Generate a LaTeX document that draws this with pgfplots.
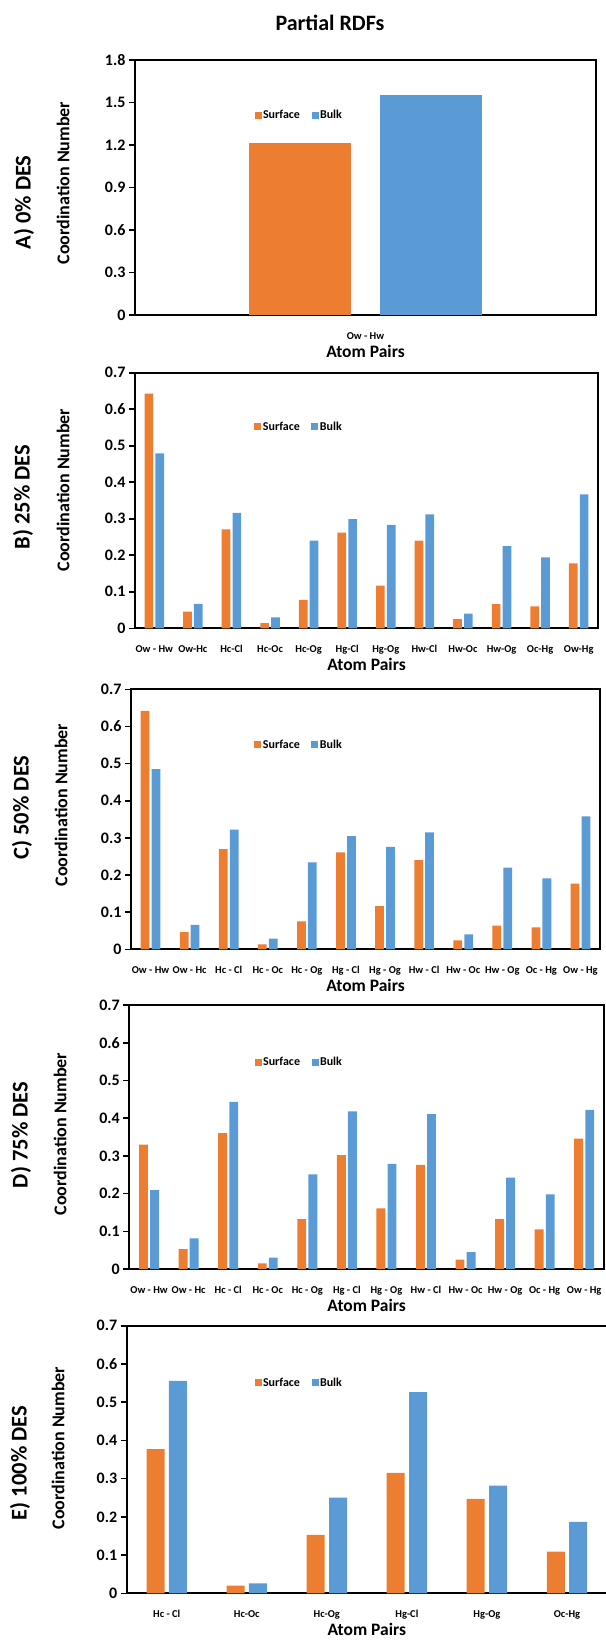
\documentclass[border=0pt]{standalone}
\usepackage{pgfplots}
\pgfplotsset{compat=1.18}
\usepackage{fontspec}
\setmainfont{Carlito}
\definecolor{sorange}{HTML}{ED7D31}
\definecolor{bblue}{HTML}{5B9BD5}
\newcommand{\fs}[1]{\fontsize{#1bp}{#1bp}\selectfont\bfseries}

\pgfplotsset{
  panel/.style={
    scale only axis,
    enlargelimits=false,
    ymin=0,
    axis line style={line width=2bp, black},
    tick align=outside,
    tick pos=left,
    major tick length=6bp,
    major tick style={line width=1.6bp, black},
    major x tick style={draw=none},
    extra x tick style={major tick length=5bp, major tick style={line width=1.6bp, black, draw=black}},
    extra x tick labels={},
    yticklabel style={font=\fs{16}, anchor=east},
    xticklabel style={font=\fs{10.5}, anchor=base, yshift=-18bp},
    xlabel={Atom Pairs},
    xlabel style={font=\fs{17.5}, at={(axis description cs:0.5,0)}, anchor=center, yshift=-36bp},
    legend style={draw=none, fill=none, font=\fs{12}, legend columns=2, anchor=center,
      /tikz/every even column/.append style={column sep=10bp},
      nodes={inner sep=1.5bp}},
    legend image code/.code={\fill[##1] (0bp,-3.5bp) rectangle (7bp,3.5bp);},
  },
  sbar/.style={ybar, fill=sorange, draw=none, bar width=0.225, bar shift=-0.14},
  bbar/.style={ybar, fill=bblue, draw=none, bar width=0.225, bar shift=0.14},
}

\begin{document}
\begin{tikzpicture}
\path[use as bounding box] (0,0) rectangle (606bp,-1640bp);

% Title
\node[font=\fs{22}] at (330bp,-23bp) {Partial RDFs};

% ---------- Panel A ----------
\begin{axis}[panel,
  at={(135bp,-315bp)}, anchor=south west, width=461bp, height=255bp,
  xmin=-0.5, xmax=0.5, ymax=1.8,
  ytick={0,0.3,0.6,0.9,1.2,1.5,1.8},
  yticklabels={0,0.3,0.6,0.9,1.2,1.5,1.8},
  xtick={0}, xticklabels={Ow - Hw},
  extra x ticks={-0.5,0.5},
  legend style={at={(axis description cs:0.3557,0.784)}},
]
\addplot[ybar, fill=sorange, draw=none, bar width=0.223, bar shift=-0.142] coordinates {(0,1.212)};
\addplot[ybar, fill=bblue, draw=none, bar width=0.223, bar shift=0.142] coordinates {(0,1.553)};
\legend{Surface,Bulk}
\end{axis}
\node[font=\fs{18}, rotate=90] at (63bp,-183bp) {Coordination Number};
\node[font=\fs{22.5}, rotate=90] at (24bp,-202.5bp) {A) 0\% DES};

% ---------- Panel B ----------
\begin{axis}[panel,
  at={(135bp,-628.3bp)}, anchor=south west, width=463bp, height=255.6bp,
  xmin=-0.5, xmax=11.5, ymax=0.7,
  ytick={0,0.1,0.2,0.3,0.4,0.5,0.6,0.7},
  yticklabels={0,0.1,0.2,0.3,0.4,0.5,0.6,0.7},
  xtick={0,...,11},
  xticklabels={Ow - Hw,Ow-Hc,Hc-Cl,Hc-Oc,Hc-Og,Hg-Cl,Hg-Og,Hw-Cl,Hw-Oc,Hw-Og,Oc-Hg,Ow-Hg},
  extra x ticks={-0.5,0.5,1.5,2.5,3.5,4.5,5.5,6.5,7.5,8.5,9.5,10.5,11.5},
  legend style={at={(axis description cs:0.354,0.788)}},
]
\addplot[sbar] coordinates {(0,0.643) (1,0.046) (2,0.271) (3,0.014) (4,0.078) (5,0.262) (6,0.117) (7,0.240) (8,0.025) (9,0.066) (10,0.060) (11,0.178)};
\addplot[bbar] coordinates {(0,0.479) (1,0.067) (2,0.316) (3,0.030) (4,0.240) (5,0.299) (6,0.283) (7,0.312) (8,0.040) (9,0.225) (10,0.194) (11,0.367)};
\legend{Surface,Bulk}
\end{axis}
\node[font=\fs{18}, rotate=90] at (63bp,-490bp) {Coordination Number};
\node[font=\fs{22.5}, rotate=90] at (23bp,-497bp) {B) 25\% DES};

% ---------- Panel C ----------
\begin{axis}[panel,
  at={(131bp,-949.3bp)}, anchor=south west, width=469bp, height=260bp,
  xmin=-0.5, xmax=11.5, ymax=0.7,
  ytick={0,0.1,0.2,0.3,0.4,0.5,0.6,0.7},
  yticklabels={0,0.1,0.2,0.3,0.4,0.5,0.6,0.7},
  xtick={0,...,11},
  xticklabels={Ow - Hw,Ow - Hc,Hc - Cl,Hc - Oc,Hc - Og,Hg - Cl,Hg - Og,Hw - Cl,Hw - Oc,Hw - Og,Oc - Hg,Ow - Hg},
  extra x ticks={-0.5,0.5,1.5,2.5,3.5,4.5,5.5,6.5,7.5,8.5,9.5,10.5,11.5},
  legend style={at={(axis description cs:0.358,0.786)}},
]
\addplot[sbar] coordinates {(0,0.642) (1,0.046) (2,0.270) (3,0.013) (4,0.075) (5,0.261) (6,0.116) (7,0.240) (8,0.024) (9,0.064) (10,0.059) (11,0.177)};
\addplot[bbar] coordinates {(0,0.485) (1,0.066) (2,0.322) (3,0.029) (4,0.234) (5,0.305) (6,0.276) (7,0.315) (8,0.040) (9,0.220) (10,0.191) (11,0.358)};
\legend{Surface,Bulk}
\end{axis}
\node[font=\fs{18}, rotate=90] at (61bp,-805bp) {Coordination Number};
\node[font=\fs{22.5}, rotate=90] at (22bp,-807.5bp) {C) 50\% DES};

% ---------- Panel D ----------
\begin{axis}[panel,
  at={(129.3bp,-1269bp)}, anchor=south west, width=474.7bp, height=264bp,
  xmin=-0.5, xmax=11.5, ymax=0.7,
  ytick={0,0.1,0.2,0.3,0.4,0.5,0.6,0.7},
  yticklabels={0,0.1,0.2,0.3,0.4,0.5,0.6,0.7},
  xtick={0,...,11},
  xticklabels={Ow - Hw,Ow - Hc,Hc - Cl,Hc - Oc,Hc - Og,Hg - Cl,Hg - Og,Hw - Cl,Hw - Oc,Hw - Og,Oc - Hg,Ow - Hg},
  extra x ticks={-0.5,0.5,1.5,2.5,3.5,4.5,5.5,6.5,7.5,8.5,9.5,10.5,11.5},
  legend style={at={(axis description cs:0.3575,0.784)}},
]
\addplot[sbar] coordinates {(0,0.330) (1,0.053) (2,0.360) (3,0.015) (4,0.132) (5,0.302) (6,0.161) (7,0.276) (8,0.025) (9,0.132) (10,0.105) (11,0.346)};
\addplot[bbar] coordinates {(0,0.209) (1,0.081) (2,0.443) (3,0.030) (4,0.251) (5,0.418) (6,0.279) (7,0.411) (8,0.045) (9,0.242) (10,0.198) (11,0.422)};
\legend{Surface,Bulk}
\end{axis}
\node[font=\fs{18}, rotate=90] at (60bp,-1134bp) {Coordination Number};
\node[font=\fs{22.5}, rotate=90] at (21bp,-1135bp) {D) 75\% DES};

% ---------- Panel E ----------
\begin{axis}[panel,
  at={(126.7bp,-1593.3bp)}, anchor=south west, width=480.3bp, height=267.6bp,
  xmin=-0.5, xmax=5.5, ymax=0.7,
  ytick={0,0.1,0.2,0.3,0.4,0.5,0.6,0.7},
  yticklabels={0,0.1,0.2,0.3,0.4,0.5,0.6,0.7},
  xtick={0,...,5},
  xticklabels={Hc - Cl,Hc-Oc,Hc-Og,Hg-Cl,Hg-Og,Oc-Hg},
  extra x ticks={-0.5,0.5,1.5,2.5,3.5,4.5,5.5},
  legend style={at={(axis description cs:0.3587,0.786)}},
]
\addplot[sbar] coordinates {(0,0.377) (1,0.020) (2,0.153) (3,0.315) (4,0.247) (5,0.109)};
\addplot[bbar] coordinates {(0,0.556) (1,0.026) (2,0.250) (3,0.526) (4,0.282) (5,0.187)};
\legend{Surface,Bulk}
\end{axis}
\node[font=\fs{18}, rotate=90] at (58bp,-1448bp) {Coordination Number};
\node[font=\fs{22.5}, rotate=90] at (20bp,-1463bp) {E) 100\% DES};
\end{tikzpicture}
\end{document}
